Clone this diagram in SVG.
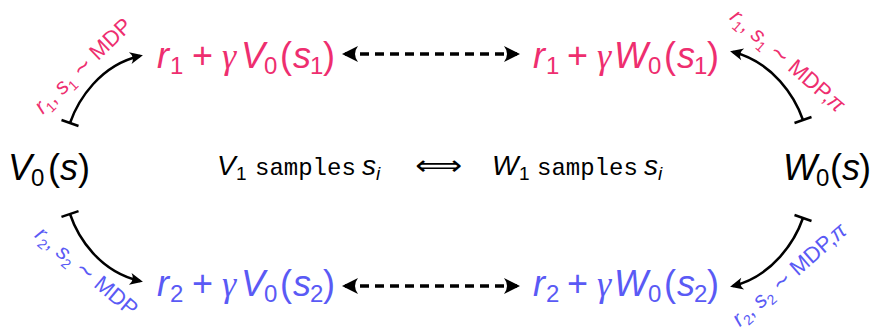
<svg xmlns="http://www.w3.org/2000/svg" width="873" height="331" viewBox="0 0 873 331">
<style>
text{font-family:"Liberation Sans","DejaVu Sans",sans-serif;}
.m{font-size:36px;}
.mid{font-size:28px;fill:#000;}
.pink{fill:#EE2E6F;}
.blue{fill:#5A5AF5;}
.it{font-style:italic;}
.g{font-family:"Liberation Serif",serif;font-style:italic;}
.mono{font-family:"Liberation Mono",monospace;font-size:24px;}
.lab{font-size:22px;}
.curve{fill:none;stroke:#000;stroke-width:2.5;marker-start:url(#bar);marker-end:url(#head);}
.dash{fill:none;stroke:#000;stroke-width:3.5;stroke-dasharray:9 6;marker-start:url(#dhead);marker-end:url(#dhead);}
</style>
<defs>
<marker id="head" markerUnits="userSpaceOnUse" viewBox="-16 -8 20 16" markerWidth="20" markerHeight="16" refX="-3" refY="0" orient="auto">
<path d="M0,0 L-13,-6 Q-8,0 -13,6 Z" fill="#000"/>
</marker>
<marker id="dhead" markerUnits="userSpaceOnUse" viewBox="-18 -9 22 18" markerWidth="22" markerHeight="18" refX="-3" refY="0" orient="auto-start-reverse">
<path d="M0,0 L-16,-8 Q-10,0 -16,8 Z" fill="#000"/>
</marker>
<marker id="bar" markerUnits="userSpaceOnUse" viewBox="-3 -10 6 20" markerWidth="6" markerHeight="20" refX="0" refY="0" orient="auto">
<path d="M0,-9 L0,9" stroke="#000" stroke-width="2.5"/>
</marker>
</defs>

<g id="V0s">
<text class="m" y="180"><tspan x="8" class="it">V</tspan><tspan x="31" dy="6" font-size="24">0</tspan><tspan x="48" dy="-6">(</tspan><tspan x="60" class="it">s</tspan><tspan x="78">)</tspan></text>
</g>
<g id="W0s">
<text class="m" y="180"><tspan x="783" class="it">W</tspan><tspan x="816" dy="6" font-size="24">0</tspan><tspan x="830" dy="-6">(</tspan><tspan x="842" class="it">s</tspan><tspan x="859">)</tspan></text>
</g>
<g id="topL">
<text class="m pink" y="68"><tspan x="157" class="it">r</tspan><tspan x="170" dy="6" font-size="24">1</tspan><tspan x="192" dy="-6">+</tspan><tspan x="222" class="g">γ</tspan><tspan x="241" class="it">V</tspan><tspan x="264" dy="6" font-size="24">0</tspan><tspan x="280" dy="-6">(</tspan><tspan x="293" class="it">s</tspan><tspan x="310" dy="6" font-size="24">1</tspan><tspan x="323" dy="-6">)</tspan></text>
</g>
<g id="topR">
<text class="m pink" y="68"><tspan x="533" class="it">r</tspan><tspan x="546" dy="6" font-size="24">1</tspan><tspan x="567" dy="-6">+</tspan><tspan x="597" class="g">γ</tspan><tspan x="614" class="it">W</tspan><tspan x="648" dy="6" font-size="24">0</tspan><tspan x="664" dy="-6">(</tspan><tspan x="677" class="it">s</tspan><tspan x="694" dy="6" font-size="24">1</tspan><tspan x="707" dy="-6">)</tspan></text>
</g>
<g id="botL">
<text class="m blue" y="296"><tspan x="157" class="it">r</tspan><tspan x="170" dy="6" font-size="24">2</tspan><tspan x="192" dy="-6">+</tspan><tspan x="222" class="g">γ</tspan><tspan x="241" class="it">V</tspan><tspan x="264" dy="6" font-size="24">0</tspan><tspan x="280" dy="-6">(</tspan><tspan x="293" class="it">s</tspan><tspan x="310" dy="6" font-size="24">2</tspan><tspan x="323" dy="-6">)</tspan></text>
</g>
<g id="botR">
<text class="m blue" y="296"><tspan x="533" class="it">r</tspan><tspan x="546" dy="6" font-size="24">2</tspan><tspan x="567" dy="-6">+</tspan><tspan x="597" class="g">γ</tspan><tspan x="614" class="it">W</tspan><tspan x="648" dy="6" font-size="24">0</tspan><tspan x="664" dy="-6">(</tspan><tspan x="677" class="it">s</tspan><tspan x="694" dy="6" font-size="24">2</tspan><tspan x="707" dy="-6">)</tspan></text>
</g>
<g id="center">
<text class="mid" y="175"><tspan x="217" class="it">V</tspan><tspan x="236" dy="5" font-size="19">1</tspan><tspan x="255" dy="-5" class="mono">samples</tspan><tspan x="362" class="it">s</tspan><tspan x="376" dy="5" font-size="19" class="it">i</tspan></text>
<text x="415" y="175" textLength="47" lengthAdjust="spacingAndGlyphs" style="font-family:'DejaVu Sans',sans-serif;font-size:28px;">⟺</text>
<text class="mid" y="175"><tspan x="492" class="it">W</tspan><tspan x="519" dy="5" font-size="19">1</tspan><tspan x="537" dy="-5" class="mono">samples</tspan><tspan x="644" class="it">s</tspan><tspan x="658" dy="5" font-size="19" class="it">i</tspan></text>
</g>

<g id="connectors">
<path class="curve" d="M70,123 C78,100 100,65 140,56"/>
<path class="curve" d="M803,120 C795,97 773,62 733,52"/>
<path class="curve" d="M70,214 C78,238 100,272 140,281"/>
<path class="curve" d="M803,218 C795,241 773,276 733,286"/>
<path class="dash" d="M345,54 L517,54"/>
<path class="dash" d="M345,286 L517,286"/>
<text class="lab pink" transform="translate(88,71) rotate(-44)" text-anchor="middle"><tspan class="it">r</tspan><tspan dy="5" font-size="14">1</tspan><tspan dy="-5">, </tspan><tspan class="it">s</tspan><tspan dy="5" font-size="14">1</tspan><tspan dy="-5"> ∼ MDP</tspan></text>
<text class="lab pink" transform="translate(783,66) rotate(41)" text-anchor="middle"><tspan class="it">r</tspan><tspan dy="5" font-size="14">1</tspan><tspan dy="-5">, </tspan><tspan class="it">s</tspan><tspan dy="5" font-size="14">1</tspan><tspan dy="-5"> ∼ MDP,</tspan><tspan class="it">π</tspan></text>
<text class="lab blue" transform="translate(82,277) rotate(40)" text-anchor="middle"><tspan class="it">r</tspan><tspan dy="5" font-size="14">2</tspan><tspan dy="-5">, </tspan><tspan class="it">s</tspan><tspan dy="5" font-size="14">2</tspan><tspan dy="-5"> ∼ MDP</tspan></text>
<text class="lab blue" transform="translate(794,280) rotate(-41)" text-anchor="middle"><tspan class="it">r</tspan><tspan dy="5" font-size="14">2</tspan><tspan dy="-5">, </tspan><tspan class="it">s</tspan><tspan dy="5" font-size="14">2</tspan><tspan dy="-5"> ∼ MDP,</tspan><tspan class="it">π</tspan></text>
</g>
</svg>
